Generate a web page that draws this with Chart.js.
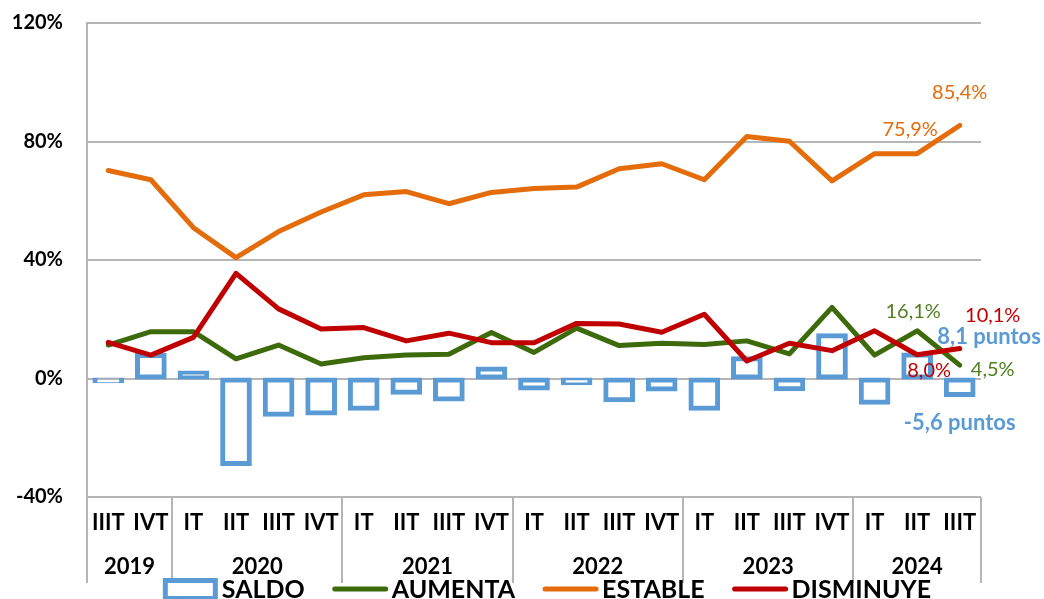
<!DOCTYPE html>
<html>
<head>
<meta charset="utf-8">
<script src="https://cdn.jsdelivr.net/npm/chart.js@4.4.1/dist/chart.umd.min.js"></script>
<style>
  html, body { margin: 0; padding: 0; background: #fff; overflow: hidden; }
  #wrap { width: 1044px; height: 599px; position: relative; }
</style>
</head>
<body>
<div id="wrap"><canvas id="myChart"></canvas></div>
<script>
// quarters and the year each one belongs to
const quarters = ["IIIT", "IVT", "IT", "IIT", "IIIT", "IVT", "IT", "IIT", "IIIT", "IVT", "IT", "IIT", "IIIT", "IVT", "IT", "IIT", "IIIT", "IVT", "IT", "IIT", "IIIT"];
const years = ["2019", "2019", "2020", "2020", "2020", "2020", "2021", "2021", "2021", "2021", "2022", "2022", "2022", "2022", "2023", "2023", "2023", "2023", "2024", "2024", "2024"];

// series values (%)
const saldo = [-0.9, 7.9, 2.0, -28.9, -12.2, -11.8, -10.2, -4.8, -7.1, 3.4, -3.4, -1.6, -7.3, -3.7, -10.2, 6.8, -3.6, 14.6, -8.2, 8.1, -5.6];
const aumenta = [11.3, 15.8, 15.8, 6.6, 11.3, 4.9, 7.0, 7.9, 8.2, 15.5, 8.8, 17.0, 11.1, 11.9, 11.5, 12.7, 8.3, 24.0, 7.9, 16.1, 4.5];
const estable = [70.2, 67.1, 50.9, 40.8, 49.6, 56.2, 62.0, 63.1, 59.0, 62.8, 64.1, 64.6, 70.8, 72.5, 67.1, 81.7, 80.1, 66.7, 75.9, 75.9, 85.4];
const disminuye = [12.2, 7.9, 13.9, 35.5, 23.5, 16.7, 17.2, 12.7, 15.3, 12.1, 12.1, 18.6, 18.4, 15.6, 21.7, 5.9, 11.9, 9.4, 16.1, 8.0, 10.1];

// y axis ticks
const yTicks = [-40, 0, 40, 80, 120];

const BLUE = "#5b9bd5";
const GREEN = "#3d6b0c";
const ORANGE = "#e46c0a";
const RED = "#c00000";
const GRID = "#b5b5b5";
const FONT = "Lato, 'Open Sans', sans-serif";

function fmt(v) {
    return v.toFixed(1).replace(".", ",");
}

// year row + separators under the quarter labels
const yearAxis = {
    id: "yearAxis",
    afterDraw(chart) {
        const ctx = chart.ctx;
        const x = chart.scales.x;
        const area = chart.chartArea;
        const half = (x.getPixelForValue(1) - x.getPixelForValue(0)) / 2;
        const bottom = 583;

        ctx.save();
        ctx.strokeStyle = GRID;
        ctx.lineWidth = 2;
        ctx.beginPath();
        ctx.moveTo(area.left, area.bottom);
        ctx.lineTo(area.left, bottom);
        ctx.stroke();

        ctx.font = "bold 22px " + FONT;
        ctx.fillStyle = "#000";
        ctx.textAlign = "center";
        ctx.textBaseline = "middle";

        let start = 0;
        for (let i = 1; i <= years.length; i++) {
            if (i === years.length || years[i] !== years[start]) {
                const x0 = x.getPixelForValue(start) - half;
                const x1 = x.getPixelForValue(i - 1) + half;
                ctx.beginPath();
                ctx.moveTo(Math.round(x1), area.bottom);
                ctx.lineTo(Math.round(x1), bottom);
                ctx.stroke();
                ctx.fillText(years[start], (x0 + x1) / 2, 567);
                start = i;
            }
        }
        ctx.restore();
    }
};

// end-of-series value labels
const valueLabels = {
    id: "valueLabels",
    afterDatasetsDraw(chart) {
        const ctx = chart.ctx;
        const x = chart.scales.x;
        const y = chart.scales.y;
        const n = quarters.length;
        const a = n - 2, b = n - 1;

        function put(text, idx, val, dx, dy, color, bold) {
            ctx.font = bold ? "bold 22px " + FONT : "20px " + FONT;
            ctx.fillStyle = color;
            ctx.fillText(text, x.getPixelForValue(idx) + dx, y.getPixelForValue(val) + dy);
        }

        ctx.save();
        ctx.textAlign = "center";
        ctx.textBaseline = "middle";
        put(fmt(estable[b]) + "%", b, estable[b], 0, -33, ORANGE, false);
        put(fmt(estable[a]) + "%", a, estable[a], -7, -24, ORANGE, false);
        put(fmt(aumenta[a]) + "%", a, aumenta[a], -4, -19, "#4f7f1f", false);
        put(fmt(aumenta[b]) + "%", b, aumenta[b], 33, 4, "#4f7f1f", false);
        put(fmt(disminuye[b]) + "%", b, disminuye[b], 33, -33, RED, false);
        put(fmt(disminuye[a]) + "%", a, disminuye[a], 12, 16, RED, false);
        put(fmt(saldo[a]) + " puntos", a, saldo[a], 72, -18, BLUE, true);
        put(fmt(saldo[b]) + " puntos", b, saldo[b], 0, 28, BLUE, true);
        ctx.restore();
    }
};

// legend drawn along the bottom edge
const bottomLegend = {
    id: "bottomLegend",
    afterDraw(chart) {
        const ctx = chart.ctx;
        const items = [
            { text: "SALDO", color: BLUE, box: true },
            { text: "AUMENTA", color: GREEN },
            { text: "ESTABLE", color: ORANGE },
            { text: "DISMINUYE", color: RED }
        ];
        const sw = 55, gap = 4, space = 28, cy = 589;
        ctx.save();
        ctx.font = "bold 25px " + FONT;
        let total = 0;
        items.forEach((it) => {
            it.w = ctx.measureText(it.text).width;
            total += sw + gap + it.w;
        });
        total += space * (items.length - 1);
        let px = 547 - total / 2;
        ctx.textBaseline = "middle";
        ctx.textAlign = "left";
        items.forEach((it) => {
            ctx.strokeStyle = it.color;
            ctx.lineWidth = 5;
            if (it.box) {
                ctx.strokeRect(px + 2.5, cy - 8.5, sw - 5, 18);
            } else {
                ctx.lineCap = "round";
                ctx.beginPath();
                ctx.moveTo(px + 2, cy);
                ctx.lineTo(px + sw - 2, cy);
                ctx.stroke();
            }
            ctx.fillStyle = "#000";
            ctx.fillText(it.text, px + sw + gap, cy + 1);
            px += sw + gap + it.w + space;
        });
        ctx.restore();
    }
};

const lineStyle = {
    type: "line",
    borderWidth: 5,
    pointRadius: 0,
    tension: 0,
    borderCapStyle: "round",
    borderJoinStyle: "round",
    fill: false
};

const config = {
    type: "bar",
    data: {
        labels: quarters,
        datasets: [
            { label: "SALDO", data: saldo, backgroundColor: "rgba(255,255,255,0)", borderColor: BLUE, borderWidth: 1, inflateAmount: 2, borderSkipped: false, barPercentage: 0.65, categoryPercentage: 1, order: 4 },
            Object.assign({ label: "AUMENTA", data: aumenta, borderColor: GREEN, order: 3 }, lineStyle),
            Object.assign({ label: "ESTABLE", data: estable, borderColor: ORANGE, order: 2 }, lineStyle),
            Object.assign({ label: "DISMINUYE", data: disminuye, borderColor: RED, order: 1 }, lineStyle)
        ]
    },
    options: {
        responsive: true,
        maintainAspectRatio: false,
        animation: false,
        layout: { padding: { top: 23, right: 63, left: 0, bottom: 0 } },
        plugins: {
            legend: { display: false },
            tooltip: { enabled: false }
        },
        scales: {
            x: {
                grid: { display: false, drawTicks: false },
                border: { display: false },
                ticks: {
                    color: "#000",
                    font: { family: FONT, size: 22, weight: "bold" },
                    padding: 13,
                    maxRotation: 0,
                    autoSkip: false
                },
                afterFit(scale) { scale.height = 102; }
            },
            y: {
                min: yTicks[0],
                max: yTicks[yTicks.length - 1],
                afterBuildTicks(scale) { scale.ticks = yTicks.map((v) => ({ value: v })); },
                grid: { color: GRID, lineWidth: 2, drawTicks: false },
                border: { display: true, color: GRID, width: 2 },
                ticks: {
                    color: "#000",
                    font: { family: FONT, size: 20, weight: "bold" },
                    padding: 24,
                    callback: (v) => v + "%"
                },
                afterFit(scale) {
                    scale.width = 87;
                    scale.paddingTop = 0;
                    scale.paddingBottom = 0;
                }
            }
        }
    },
    plugins: [yearAxis, valueLabels, bottomLegend]
};

new Chart(document.getElementById("myChart"), config);
</script>
</body>
</html>
